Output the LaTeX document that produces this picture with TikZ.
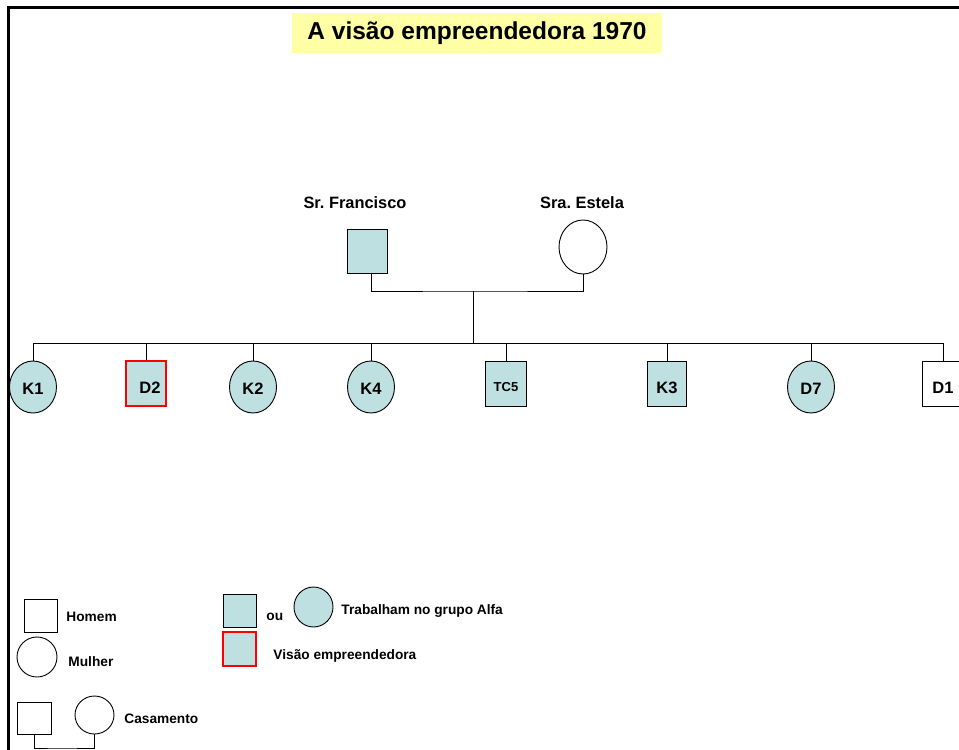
\documentclass[tikz,border=0pt]{standalone}
\usepackage{fontspec}
\setmainfont{Liberation Sans}
\frenchspacing
\usetikzlibrary{shapes.geometric}
\definecolor{alfa}{HTML}{BEE0E0}
\definecolor{titlebg}{HTML}{FFFFA6}
\begin{document}
\begin{tikzpicture}[x=1pt,y=-1pt,
  line width=0.9pt,
  txt/.style={inner sep=0pt,font=\fontsize{#1}{#1}\selectfont\bfseries},
  txt/.default=13.7,
  sq/.style={draw,rectangle,inner sep=0pt,minimum width=#1},
  circ/.style={draw,ellipse,inner sep=0pt},
  kid/.style={font=\fontsize{16.5}{16.5}\selectfont\bfseries},
  low/.style={text height=#1,text depth=0pt},
  low/.default=20pt,
  worker/.style={fill=alfa},
  visionary/.style={draw=red,line width=1.8pt}
]
\useasboundingbox (0,0) rectangle (959,750);

% page frame
\draw[line width=2.4pt] (8.5,750) -- (8.5,7.5) -- (959,7.5);

% title
\node[fill=titlebg,minimum width=370pt,minimum height=40pt,inner sep=0pt,
      font=\fontsize{24.5}{24.5}\selectfont\bfseries] (title) at (477,33)
      {A visão empreendedora 1970};

% parents
\node[txt=16.4] (lfr) at (355,203) {Sr. Francisco};
\node[txt=16.4] (les) at (582,203) {Sra. Estela};
\node[sq=40pt,minimum height=44pt,worker] (fr) at (367,251) {};
\node[circ,minimum width=48pt,minimum height=54pt] (es) at (583,247) {};
\coordinate (mar) at (473,291);
\coordinate (sib) at (473,343);
\draw ([xshift=4pt]fr.south) |- (mar) -| (es.south);
\draw (mar) -- (sib);

% children
\node[circ,kid,low=15pt,worker,minimum width=47pt,minimum height=52pt] (k1) at (33,387) {K1};
\node[sq=40pt,minimum height=45pt,kid,low,worker,visionary] (d2) at (146,383.5) {\hspace{8pt}D2};
\node[circ,kid,low=15pt,worker,minimum width=47pt,minimum height=52pt] (k2) at (253,387) {K2};
\node[circ,kid,low=15pt,worker,minimum width=47pt,minimum height=52pt] (k4) at (371,387) {K4};
\node[sq=41pt,minimum height=45pt,low=15pt,worker,font=\fontsize{13}{13}\selectfont\bfseries] (tc5) at (506,383.5) {TC5\hspace{8pt}};
\node[sq=39pt,minimum height=45pt,kid,low,worker] (k3) at (667,383.5) {K3};
\node[circ,kid,low=15pt,worker,minimum width=47pt,minimum height=52pt] (d7) at (811,387) {D7};
\node[sq=42pt,minimum height=45pt,kid,low,fill=white] (d1) at (943,383.5) {D1};

\draw (k1.north |- sib) -- (d1.north |- sib);
\foreach \c in {k1,d2,k2,k4,tc5,k3,d7,d1}
  \draw (\c.north) -- (\c.north |- sib);

% legend
\node[sq=33pt,minimum height=33pt] (lhom) at (40.5,615.5) {};
\node[txt,anchor=west] (thom) at (66,617) {Homem};
\node[circ,minimum width=40pt,minimum height=40pt] (lmul) at (37,657) {};
\node[txt,anchor=west] (tmul) at (68,662) {Mulher};
\node[sq=34pt,minimum height=32pt] (lcm) at (34,718) {};
\node[circ,minimum width=39pt,minimum height=38pt] (lcf) at (94.5,715) {};
\coordinate (lcb) at (60,748);
\draw (lcm.south) |- (lcb) -| (lcf.south);
\node[txt,anchor=west] (tcas) at (124,719) {Casamento};

\node[sq=33pt,minimum height=33pt,worker] (lwsq) at (239.5,610.5) {};
\node[txt,anchor=west] (tou) at (266,617) {ou};
\node[circ,worker,minimum width=39pt,minimum height=40pt] (lwc) at (313.5,607) {};
\node[txt,anchor=west] (twork) at (341,611) {Trabalham no grupo Alfa};
\node[sq=33pt,minimum height=34pt,worker,visionary] (lvis) at (239.5,649) {};
\node[txt,anchor=west] (tvis) at (273,656) {Visão empreendedora};
\end{tikzpicture}
\end{document}
